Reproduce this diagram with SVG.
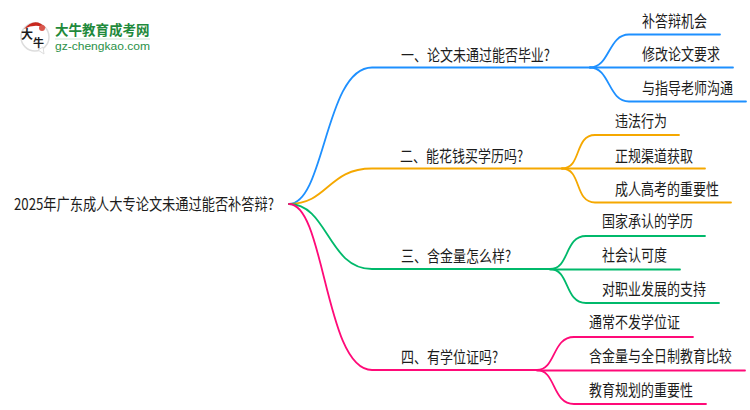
<svg xmlns="http://www.w3.org/2000/svg" width="750" height="410" viewBox="0 0 750 410">
<style>
text{font-family:"Noto Sans CJK SC","Noto Sans",sans-serif;font-size:16px;fill:#1c1c1c}
.c{fill:none;stroke-width:1.8;stroke-linecap:round}
.b{stroke:#1e90ff}.o{stroke:#f5a800}.g{stroke:#00b96b}.p{stroke:#ff0a78}
</style>
<rect width="750" height="410" fill="#fff"/>
<g id="logo">
<circle cx="35" cy="37" r="14" fill="#fff" stroke="#ddd" stroke-width="1.5"/>
<path d="M38 50l6 4-1-7z" fill="#fff" stroke="#ddd"/>
<path d="M24 29Q35 16 46 28Q35 23 24 29z" fill="#c8281e"/>
<circle cx="42" cy="28" r="3" fill="#d9574d"/>
<text x="21" y="39" style="font-size:12px;font-weight:700">大</text>
<text x="33" y="47" style="font-size:11px;font-weight:700">牛</text>
<text transform="translate(55,35) scale(1,1.05)" style="font-size:13.5px;font-weight:700;fill:#1f8a3c">大牛教育成考网</text>
<rect x="55" y="38.5" width="95" height="1" fill="#cfe6d5"/>
<text x="55" y="49.5" textLength="95" lengthAdjust="spacingAndGlyphs" style="font-family:'Liberation Sans',sans-serif;font-size:11.5px;fill:#2b9148">gz-chengkao.com</text>
</g>
<g id="connectors">
<path class="c b" d="M289 204C325 204 325 67.5 372 67.5H590"/>
<path class="c o" d="M289 204C328 204 328 168.5 372 168.5H562"/>
<path class="c g" d="M289 204C328 204 328 269 372 269H550"/>
<path class="c p" d="M289 204C325 204 325 370 372 370H537"/>
<path class="c b" d="M590 67.5C610 67.5 608 34.5 629 34.5H720"/>
<path class="c b" d="M590 67.5H733"/>
<path class="c b" d="M590 67.5C610 67.5 608 101.5 629 101.5H746"/>
<path class="c o" d="M562 168.5C582 168.5 574 135 595 135H679"/>
<path class="c o" d="M562 168.5H705"/>
<path class="c o" d="M562 168.5C582 168.5 574 202.5 595 202.5H731"/>
<path class="c g" d="M550 269C570 269 564 236 586 236H705"/>
<path class="c g" d="M550 269.5H680"/>
<path class="c g" d="M550 269C570 269 564 303 586 303H719"/>
<path class="c p" d="M537 370C556 370 552 337 574 337H693"/>
<path class="c p" d="M537 370.5H745"/>
<path class="c p" d="M537 370C556 370 552 404 574 404H706"/>
</g>
<g id="root"><text transform="translate(14,210) scale(.826,1)">2025年广东成人大专论文未通过能否补答辩?</text></g>
<g id="n1"><text transform="translate(401,61) scale(.8125,1)">一、论文未通过能否毕业?</text></g>
<g id="n11"><text transform="translate(642,27) scale(.8125,1)">补答辩机会</text></g>
<g id="n12"><text transform="translate(642,60) scale(.8125,1)">修改论文要求</text></g>
<g id="n13"><text transform="translate(642,94) scale(.8125,1)">与指导老师沟通</text></g>
<g id="n2"><text transform="translate(400,162) scale(.8125,1)">二、能花钱买学历吗?</text></g>
<g id="n21"><text transform="translate(615,127) scale(.8125,1)">违法行为</text></g>
<g id="n22"><text transform="translate(615,162) scale(.8125,1)">正规渠道获取</text></g>
<g id="n23"><text transform="translate(615,195) scale(.8125,1)">成人高考的重要性</text></g>
<g id="n3"><text transform="translate(401,262) scale(.8125,1)">三、含金量怎么样?</text></g>
<g id="n31"><text transform="translate(602,227) scale(.8125,1)">国家承认的学历</text></g>
<g id="n32"><text transform="translate(602,261) scale(.8125,1)">社会认可度</text></g>
<g id="n33"><text transform="translate(602,295) scale(.8125,1)">对职业发展的支持</text></g>
<g id="n4"><text transform="translate(401,363) scale(.8125,1)">四、有学位证吗?</text></g>
<g id="n41"><text transform="translate(589,328) scale(.8125,1)">通常不发学位证</text></g>
<g id="n42"><text transform="translate(589,362) scale(.8125,1)">含金量与全日制教育比较</text></g>
<g id="n43"><text transform="translate(589,396) scale(.8125,1)">教育规划的重要性</text></g>
</svg>
